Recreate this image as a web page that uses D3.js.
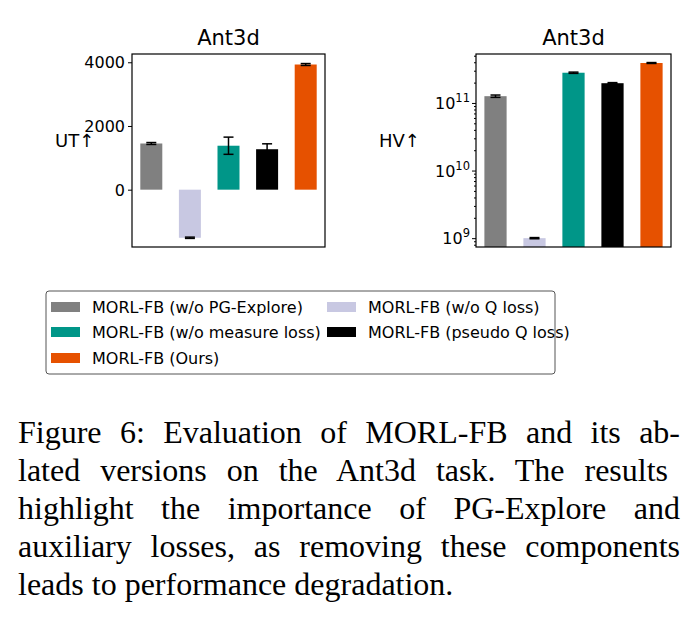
<!DOCTYPE html>
<html><head><meta charset="utf-8">
<script src="https://cdn.jsdelivr.net/npm/d3@7"></script>
<style>body{margin:0;background:#fff}</style></head>
<body><svg id="c" width="693" height="620"></svg>
<script>
const categories = ["MORL-FB (w/o PG-Explore)","MORL-FB (w/o Q loss)","MORL-FB (w/o measure loss)","MORL-FB (pseudo Q loss)","MORL-FB (Ours)"];
const colors = ["#808080","#c8c8e2","#009688","#000000","#e65100"];
const utValues = [1450,-1510,1380,1270,3930];
const utErrors = [30,20,270,170,30];
const hvValues = [1.26e11,1.0e9,2.8e11,1.96e11,3.9e11];
const hvErrors = [0.05e11,0.02e9,0.06e11,0.04e11,0.06e11];
const utTicks = [0,2000,4000];
const hvTicks = [1e9,1e10,1e11];
const caption = ["Figure 6: Evaluation of MORL-FB and its ab-","lated versions on the Ant3d task.  The results","highlight the importance of PG-Explore and","auxiliary losses, as removing these components","leads to performance degradation."];

const svg = d3.select("#c");
const F = "DejaVu Sans";

function panel(x0,x1,y0,y1,yScale,vals,errs,ticks,fmt,label,labelX,isLog){
  const x = d3.scaleBand().domain(categories).range([x0,x1]).paddingInner(0.43).paddingOuter(0.215);
  const g = svg.append("g");
  const base = isLog ? y1 : yScale(0);
  vals.forEach((v,i)=>{
    const yv = yScale(v);
    g.append("rect").attr("x",x(categories[i])).attr("width",x.bandwidth())
      .attr("y",Math.min(yv,base)).attr("height",Math.abs(base-yv)).attr("fill",colors[i]);
    const cx = x(categories[i])+x.bandwidth()/2;
    const a = yScale(v+errs[i]), b = yScale(v-errs[i]);
    g.append("line").attr("x1",cx).attr("x2",cx).attr("y1",a).attr("y2",b).attr("stroke","#000").attr("stroke-width",1.5);
    [a,b].forEach(yy=>g.append("line").attr("x1",cx-5).attr("x2",cx+5).attr("y1",yy).attr("y2",yy).attr("stroke","#000").attr("stroke-width",1.5));
  });
  const ax = d3.axisLeft(yScale).tickValues(ticks).tickFormat(()=>"").tickSize(4);
  const axg = g.append("g").attr("transform",`translate(${x0},0)`).call(ax);
  axg.select(".domain").remove();
  if(isLog){
    const minor=[];
    for(let e=8;e<=11;e++)for(let m=2;m<=9;m++){const v=m*Math.pow(10,e);const d=yScale.domain();if(v>d[0]&&v<d[1])minor.push(v);}
    g.append("g").attr("transform",`translate(${x0},0)`).call(d3.axisLeft(yScale).tickValues(minor).tickFormat(()=>"").tickSize(2)).select(".domain").remove();
    ticks.forEach(t=>{
      const e=Math.round(Math.log10(t));
      const tx=g.append("text").attr("x",x0-6).attr("y",yScale(t)+6).attr("text-anchor","end").attr("font-family",F).attr("font-size",16);
      tx.append("tspan").text("10");
      tx.append("tspan").attr("dy",-7).attr("font-size",11.5).text(e);
    });
  } else {
    ticks.forEach(t=>g.append("text").attr("x",x0-7).attr("y",yScale(t)+6).attr("text-anchor","end").attr("font-family",F).attr("font-size",16).text(fmt(t)));
  }
  g.append("rect").attr("x",x0).attr("y",y0).attr("width",x1-x0).attr("height",y1-y0).attr("fill","none").attr("stroke","#000").attr("stroke-width",1.2);
  g.append("text").attr("x",(x0+x1)/2).attr("y",y0-9).attr("text-anchor","middle").attr("font-family",F).attr("font-size",21).text("Ant3d");
  g.append("text").attr("x",labelX).attr("y",147).attr("font-family",F).attr("font-size",18).text(label);
}

const yUT = d3.scaleLinear().domain([-1800,4260]).range([247,54]);
panel(132,325,54,247,yUT,utValues,utErrors,utTicks,d=>d,"UT↑",55,false);
const yHV = d3.scaleLog().domain([7.4e8,5.3e11]).range([247,54]);
panel(476,671,54,247,yHV,hvValues,hvErrors,hvTicks,null,"HV↑",379,true);

// legend
svg.append("rect").attr("x",46).attr("y",291).attr("width",509).attr("height",83).attr("rx",3).attr("fill","#fff").attr("stroke","#555").attr("stroke-width",1);
const pos=[[51,307],[327,307],[51,332],[327,332],[51,358]];
categories.forEach((c,i)=>{
  svg.append("rect").attr("x",pos[i][0]).attr("y",pos[i][1]-5).attr("width",29).attr("height",10).attr("fill",colors[i]);
  svg.append("text").attr("x",pos[i][0]+41).attr("y",pos[i][1]+6).attr("font-family",F).attr("font-size",16).text(c);
});

// caption
caption.forEach((l,i)=>{
  const t=svg.append("text").attr("x",18).attr("y",443+i*38).attr("font-family","Liberation Serif").attr("font-size",32).text(l);
  if(i<caption.length-1){
    const w=t.node().getComputedTextLength();
    const gaps=(l.match(/ /g)||[]).length;
    t.attr("word-spacing",(662-w)/gaps);
  }
});
</script></body></html>
